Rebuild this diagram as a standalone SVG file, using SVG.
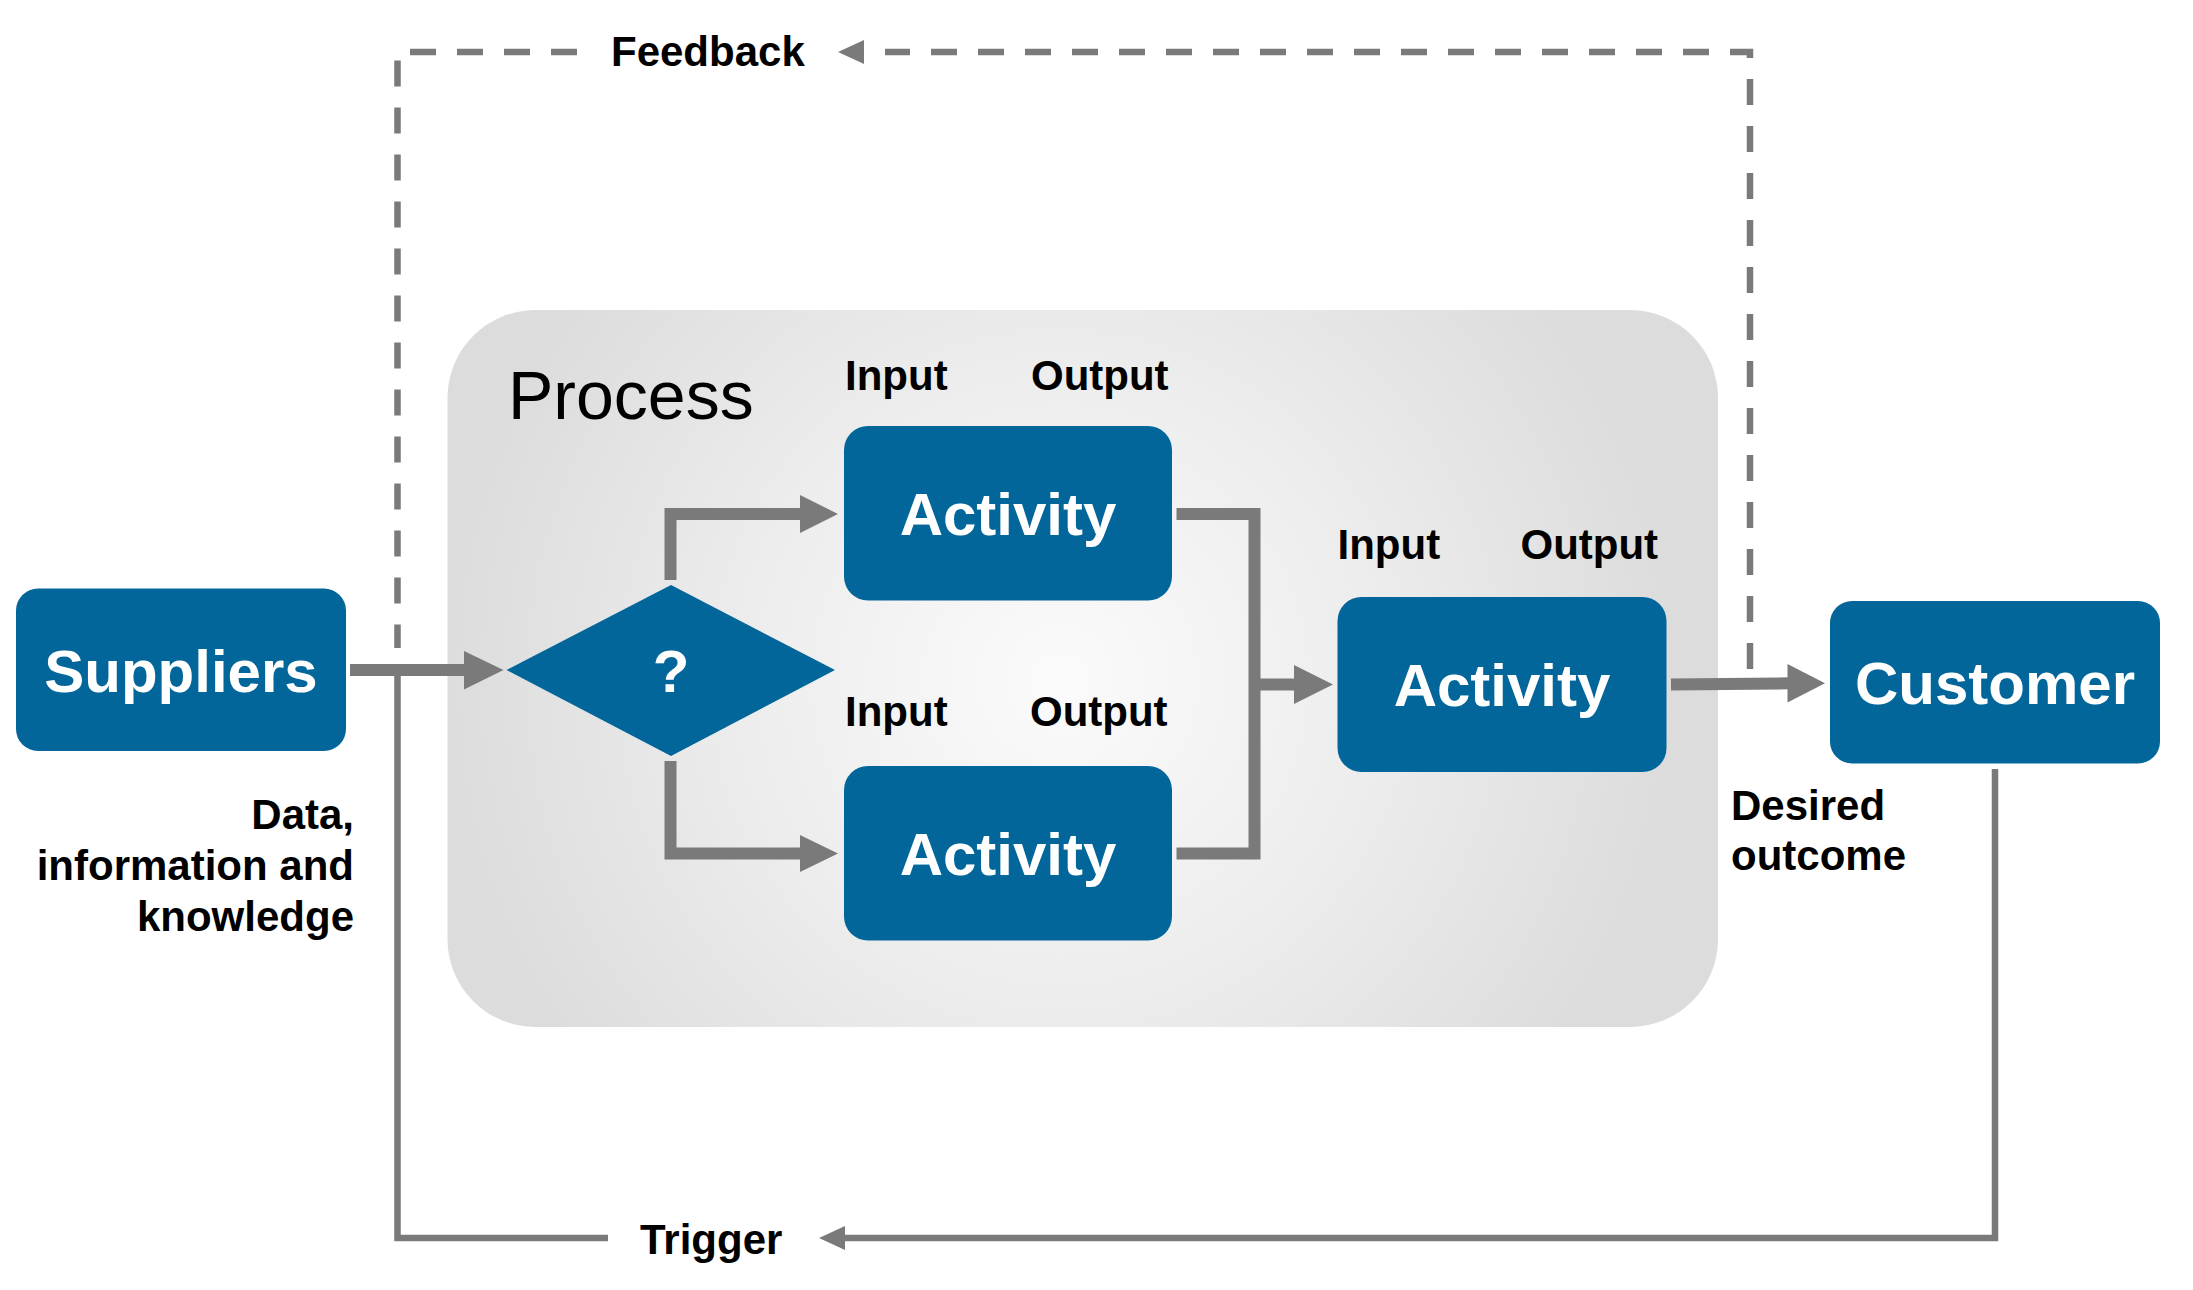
<svg xmlns="http://www.w3.org/2000/svg" width="2193" height="1290" viewBox="0 0 2193 1290">
  <style>
    .node { fill: #02669a; }
    .ntext { font-family: "Liberation Sans", Arial, sans-serif; font-weight: bold; font-size: 60px; fill: #ffffff; text-anchor: middle; }
    .lbl { font-family: "Liberation Sans", Arial, sans-serif; font-weight: bold; font-size: 42px; fill: #000000; }
    .thick { fill: none; stroke: #7a7a7a; stroke-width: 12; stroke-linejoin: miter; }
    .thin { fill: none; stroke: #7a7a7a; stroke-width: 6.5; stroke-linejoin: miter; }
    .dash { fill: none; stroke: #7a7a7a; stroke-width: 6.5; stroke-dasharray: 26 21; }
    .head { fill: #7a7a7a; }
  </style>
  <defs>
    <radialGradient id="procGrad" gradientUnits="userSpaceOnUse" cx="1060" cy="680" r="620">
      <stop offset="0" stop-color="#fbfbfb"/>
      <stop offset="0.5" stop-color="#ededed"/>
      <stop offset="1" stop-color="#dcdcdc"/>
    </radialGradient>
  </defs>
  <rect width="2193" height="1290" fill="#ffffff"/>

  <g id="process">
    <rect x="447.5" y="310" width="1270.5" height="717" rx="88" ry="88" fill="url(#procGrad)"/>
    <text x="508" y="419" font-family="'Liberation Sans', Arial, sans-serif" font-size="68" fill="#000000">Process</text>
  </g>

  <g id="connectors">
    <!-- Suppliers to decision -->
    <path class="thick" d="M350 670 H466"/>
    <polygon class="head" points="464,651 503.5,670 464,689.5"/>
    <!-- decision top branch -->
    <path class="thick" d="M670.5 580 V514 H802"/>
    <polygon class="head" points="800,495 838,514 800,533"/>
    <!-- decision bottom branch -->
    <path class="thick" d="M670.5 761 V853.5 H802"/>
    <polygon class="head" points="800,835 838,853.5 800,872"/>
    <!-- activities merge -->
    <path class="thick" d="M1176.5 514 H1254.5 V853.5 H1176.5"/>
    <path class="thick" d="M1254.5 684.5 H1296"/>
    <polygon class="head" points="1294,665 1333,684.5 1294,704"/>
    <!-- activity to customer -->
    <path class="thick" d="M1671 684.5 L1789.5 683.3"/>
    <polygon class="head" points="1787.5,664 1825,683.3 1787.5,702.5"/>
    <!-- feedback dashed loop -->
    <path class="dash" d="M1750 669 V52 H885"/>
    <polygon class="head" points="864,40 838,52 864,64"/>
    <path class="dash" d="M577 52 H397.5 V648"/>
    <text class="lbl" x="611" y="65.5">Feedback</text>
    <!-- trigger loop -->
    <path class="thin" d="M1995 769 V1238 H845"/>
    <polygon class="head" points="845,1226 819,1238 845,1250"/>
    <path class="thin" d="M608 1238 H397.5 V676"/>
    <text class="lbl" x="640" y="1254">Trigger</text>
  </g>

  <g id="suppliers">
    <rect class="node" x="16" y="588.5" width="330" height="162.5" rx="22" ry="22"/>
    <text class="ntext" x="181" y="692">Suppliers</text>
  </g>

  <g id="suppliers-label">
    <text class="lbl" x="354" y="828.5" text-anchor="end">Data,</text>
    <text class="lbl" x="354" y="880" text-anchor="end">information and</text>
    <text class="lbl" x="354" y="930.5" text-anchor="end">knowledge</text>
  </g>

  <g id="decision">
    <polygon class="node" points="671,585 835,670 671,756 506.5,670"/>
    <text class="ntext" x="671" y="692">?</text>
  </g>

  <g id="activity1">
    <text class="lbl" x="845" y="390">Input</text>
    <text class="lbl" x="1031" y="390">Output</text>
    <rect class="node" x="844" y="426" width="328" height="174.5" rx="24" ry="24"/>
    <text class="ntext" x="1008" y="535">Activity</text>
  </g>

  <g id="activity2">
    <text class="lbl" x="845" y="726">Input</text>
    <text class="lbl" x="1030" y="726">Output</text>
    <rect class="node" x="844" y="766" width="328" height="174.5" rx="24" ry="24"/>
    <text class="ntext" x="1008" y="875">Activity</text>
  </g>

  <g id="activity3">
    <text class="lbl" x="1337.5" y="559">Input</text>
    <text class="lbl" x="1520.5" y="559">Output</text>
    <rect class="node" x="1337.5" y="597" width="329" height="175" rx="24" ry="24"/>
    <text class="ntext" x="1502" y="706">Activity</text>
  </g>

  <g id="customer">
    <rect class="node" x="1830" y="601" width="330" height="162.5" rx="22" ry="22"/>
    <text class="ntext" x="1995" y="704">Customer</text>
  </g>

  <g id="customer-label">
    <text class="lbl" x="1731" y="820">Desired</text>
    <text class="lbl" x="1731" y="870">outcome</text>
  </g>
</svg>
